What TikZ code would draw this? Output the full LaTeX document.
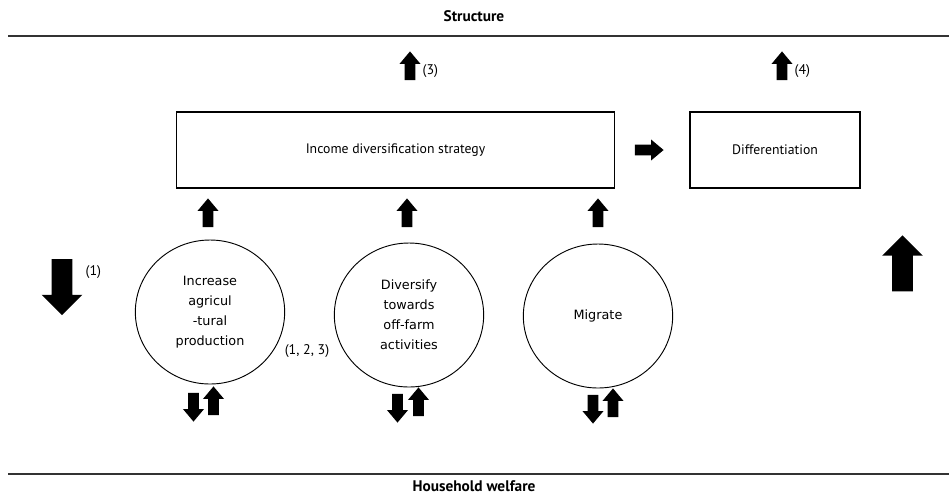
\documentclass[tikz,border=0pt]{standalone}
\usepackage{fontspec}
\setmainfont{PT Sans}
\newfontfamily\roundfont{DejaVu Sans}
\usetikzlibrary{positioning,shapes.geometric,shapes.arrows}
\tikzset{
  heading/.style={font=\bfseries\fontsize{11.5}{13}\selectfont},
  rule/.style={line width=1.1pt, black!80},
  stratbox/.style={draw, line width=0.8pt, minimum height=57pt, font=\fontsize{10.3}{12}\selectfont},
  option/.style={ellipse, draw, line width=0.7pt, minimum width=112pt, minimum height=108pt,
                 inner sep=0pt, align=center, font=\roundfont\fontsize{9.6}{15}\selectfont},
  blockarrow/.style={single arrow, fill=black, inner sep=3.9pt, single arrow head extend=3.8pt,
                     single arrow tip angle=80, minimum height=21.5pt, minimum width=0pt},
  blockup/.style={blockarrow, shape border rotate=90},
  blockdown/.style={blockarrow, shape border rotate=270},
  bigarrow/.style={single arrow, fill=black, inner sep=7.5pt, single arrow head extend=7.5pt,
                   single arrow tip angle=90, minimum height=42pt, minimum width=0pt},
  note/.style={font=\fontsize{10.5}{12}\selectfont, inner sep=1pt}
}
\begin{document}
\begin{tikzpicture}[x=0.75pt, y=-0.75pt]
  \useasboundingbox (0,0) rectangle (949,494);
  % frame lines
  \node[heading] (structure) at (474,16) {Structure};
  \node[heading] (welfare) at (474,486) {Household welfare};
  \coordinate (topL) at (8,36); \coordinate (topR) at (949,36);
  \coordinate (botL) at (8,474); \coordinate (botR) at (949,474);
  \draw[rule] (topL) -- (topR);
  \draw[rule] (botL) -- (botR);
  % boxes
  \node[stratbox, minimum width=328pt] (income) at (395.5,150) {Income diversification strategy};
  \node[stratbox, minimum width=127.5pt] (diff) at (775,150) {Differentiation};
  \node[blockarrow] (todiff) at (646,150) {};
  \node[blockup] (up3) at (410,69) {};
  \node[note, anchor=west] (lab3) at (421,71) {(3)};
  \node[blockup] (up4) at (782,69) {};
  \node[note, anchor=west] (lab4) at (793,71) {(4)};
  % options
  \node[option] (agri) at (210,312) {Increase\\agricul\\-tural\\production};
  \node[option] (offfarm) at (409,315) {Diversify\\towards\\off-farm\\activities};
  \node[option] (migrate) at (598,316) {Migrate};
  \node[note] (lab123) at (307,351) {(1, 2, 3)};
  \foreach \n/\x in {agri/208, offfarm/407, migrate/598} {
    \node[blockup] (\n-up) at (\x,216) {};
  }
  \foreach \n/\xd/\xu/\y in {agri/193.5/213.5/404, offfarm/397.5/418.5/405, migrate/593/613/406} {
    \node[blockdown] (\n-down) at (\xd,\y) {};
    \node[blockup] (\n-back) at (\xu,\y) {};
  }
  % welfare effects
  \node[bigarrow, shape border rotate=270] (down1) at (62,282) {};
  \node[note, anchor=west] (lab1) at (84,272) {(1)};
  \node[bigarrow, shape border rotate=90] (upright) at (902.5,268.5) {};
\end{tikzpicture}
\end{document}
